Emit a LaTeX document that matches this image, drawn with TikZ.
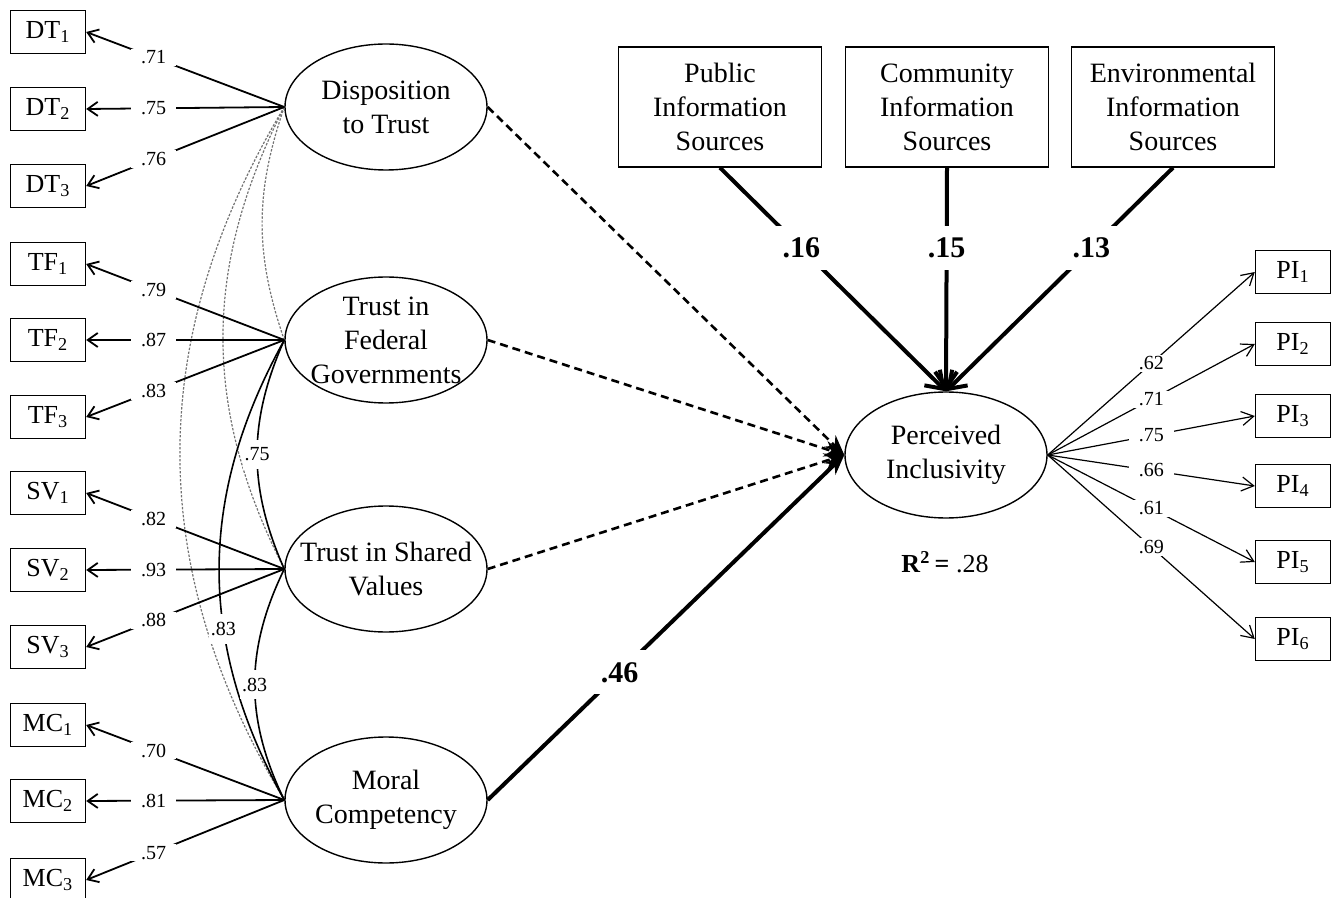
\documentclass[tikz,border=0pt]{standalone}
\usepackage{fontspec}
\setmainfont{Liberation Serif}
\usetikzlibrary{arrows.meta,shapes.geometric}

\begin{document}
\begin{tikzpicture}[x=0.5pt,y=-0.5pt,
      every node/.append style={font=\fontsize{14}{17}\selectfont},
      latent/.style={draw,ellipse,line width=0.7pt,inner sep=0pt,minimum width=101pt,minimum height=63pt},
      ltext/.style={align=center,inner sep=0pt},
      source/.style={draw,line width=0.7pt,inner sep=0pt,minimum width=101.5pt,minimum height=60pt,align=center},
      item/.style={draw,line width=0.7pt,inner sep=0pt,minimum width=37.5pt,minimum height=21.5pt,font=\fontsize{13}{15}\selectfont},
      load/.style={line width=0.9pt,-{Straight Barb[length=5pt,width=7pt]}},
      loadR/.style={line width=0.6pt,-{Straight Barb[length=6pt,width=7pt]}},
      effect/.style={line width=2pt,-{Straight Barb[length=8pt,width=11pt]}},
      nonsig/.style={line width=1.3pt,dash pattern=on 4pt off 2.5pt,-{Stealth[length=10pt,width=8pt]}}]
    \tikzstyle{coef} = [fill=white,inner xsep=5pt,inner ysep=1pt,font=\fontsize{10}{11}\selectfont]
    \tikzstyle{beta} = [fill=white,inner sep=6pt,font=\fontsize{15}{17}\bfseries]
    \tikzstyle{corr} = [line width=0.8pt]
    \tikzstyle{corrdot} = [line width=0.6pt,black!55,dash pattern=on 1.2pt off 0.8pt]
    \useasboundingbox (0,0) rectangle (1338,898);

    % latent constructs
    \node[latent,label={[ltext]center:Disposition\\to Trust}] (DT) at (386,107) {};
    \node[latent,label={[ltext]center:Trust in\\Federal\\Governments}] (TF) at (386,340) {};
    \node[latent,label={[ltext]center:Trust in Shared\\Values}] (SV) at (386,569) {};
    \node[latent,label={[ltext]center:Moral\\Competency}] (MC) at (386,800) {};
    \node[latent,label={[ltext]center:Perceived\\Inclusivity}] (PI) at (946,455) {};
    \node (R2) at (945,562) {\fontsize{13}{15}\selectfont\textbf{R\textsuperscript{2}\,=} .28};

    % information sources
    \node[source] (public) at (720,107) {Public\\Information\\Sources};
    \node[source] (community) at (947,107) {Community\\Information\\Sources};
    \node[source] (environment) at (1173,107) {Environmental\\Information\\Sources};

    % indicators
    \node[item] (DT1) at (48,32) {DT\textsubscript{1}};
    \node[item] (DT2) at (48,109) {DT\textsubscript{2}};
    \node[item] (DT3) at (48,186) {DT\textsubscript{3}};
    \node[item] (TF1) at (48,264) {TF\textsubscript{1}};
    \node[item] (TF2) at (48,340) {TF\textsubscript{2}};
    \node[item] (TF3) at (48,417) {TF\textsubscript{3}};
    \node[item] (SV1) at (48,493) {SV\textsubscript{1}};
    \node[item] (SV2) at (48,570) {SV\textsubscript{2}};
    \node[item] (SV3) at (48,647) {SV\textsubscript{3}};
    \node[item] (MC1) at (48,725) {MC\textsubscript{1}};
    \node[item] (MC2) at (48,801) {MC\textsubscript{2}};
    \node[item] (MC3) at (48,880) {MC\textsubscript{3}};
    \node[item] (PI1) at (1293,272) {PI\textsubscript{1}};
    \node[item] (PI2) at (1293,344) {PI\textsubscript{2}};
    \node[item] (PI3) at (1293,416) {PI\textsubscript{3}};
    \node[item] (PI4) at (1293,486) {PI\textsubscript{4}};
    \node[item] (PI5) at (1293,562) {PI\textsubscript{5}};
    \node[item] (PI6) at (1293,639) {PI\textsubscript{6}};

    % correlations among constructs
    \draw[corrdot] (DT.west) to[bend right=19] (TF.west);
    \draw[corrdot] (DT.west) to[bend right=27] (SV.west);
    \draw[corrdot] (DT.west) to[bend right=31] (MC.west);
    \draw[corr] (TF.west) to[bend right=24] node[coef,inner xsep=1pt,inner ysep=4pt] {.75} (SV.west);
    \draw[corr] (TF.west) to[bend right=29] node[coef,inner xsep=1pt,inner ysep=4pt,pos=.63] {.83} (MC.west);
    \draw[corr] (SV.west) to[bend right=26] node[coef,inner xsep=1pt,inner ysep=4pt] {.83} (MC.west);

    % loadings
    \draw[load] (DT.west) -- node[coef,pos=.66] {.71} (DT1.east);
    \draw[load] (DT.west) -- node[coef,pos=.66] {.75} (DT2.east);
    \draw[load] (DT.west) -- node[coef,pos=.66] {.76} (DT3.east);
    \draw[load] (TF.west) -- node[coef,pos=.66] {.79} (TF1.east);
    \draw[load] (TF.west) -- node[coef,pos=.66] {.87} (TF2.east);
    \draw[load] (TF.west) -- node[coef,pos=.66] {.83} (TF3.east);
    \draw[load] (SV.west) -- node[coef,pos=.66] {.82} (SV1.east);
    \draw[load] (SV.west) -- node[coef,pos=.66] {.93} (SV2.east);
    \draw[load] (SV.west) -- node[coef,pos=.66] {.88} (SV3.east);
    \draw[load] (MC.west) -- node[coef,pos=.66] {.70} (MC1.east);
    \draw[load] (MC.west) -- node[coef,pos=.66] {.81} (MC2.east);
    \draw[load] (MC.west) -- node[coef,pos=.66] {.57} (MC3.east);
    \draw[loadR] (PI.east) -- node[coef,pos=.5] {.62} (PI1.west);
    \draw[loadR] (PI.east) -- node[coef,pos=.5] {.71} (PI2.west);
    \draw[loadR] (PI.east) -- node[coef,pos=.5] {.75} (PI3.west);
    \draw[loadR] (PI.east) -- node[coef,pos=.5] {.66} (PI4.west);
    \draw[loadR] (PI.east) -- node[coef,pos=.5] {.61} (PI5.west);
    \draw[loadR] (PI.east) -- node[coef,pos=.5] {.69} (PI6.west);

    % structural paths
    \draw[nonsig] (DT.east) -- (PI.west);
    \draw[nonsig] (TF.east) -- (PI.west);
    \draw[nonsig] (SV.east) -- (PI.west);
    \draw[line width=2pt,-{Stealth[length=10pt,width=8pt]}] (MC.east) -- node[beta,pos=.37] {.46} (PI.west);
    \draw[effect] (public.south) -- node[beta,pos=.36] {.16} (PI.north);
    \draw[effect] (community.south) -- node[beta,pos=.36] {.15} (PI.north);
    \draw[effect] (environment.south) -- node[beta,pos=.36] {.13} (PI.north);
\end{tikzpicture}
\end{document}
